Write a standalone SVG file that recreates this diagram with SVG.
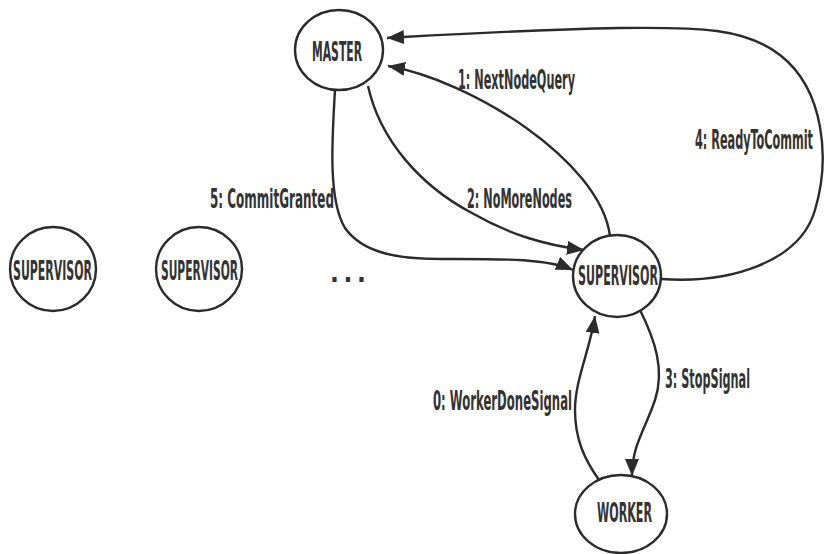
<svg xmlns="http://www.w3.org/2000/svg" width="824" height="554" viewBox="0 0 824 554">
  <style>
    .node { fill: #ffffff; stroke: #2b2b2b; stroke-width: 2.4; }
    .edge { fill: none; stroke: #2b2b2b; stroke-width: 2.4; marker-end: url(#head); }
    text { font-family: "DejaVu Sans Condensed", "Liberation Sans Narrow", "Liberation Sans", sans-serif; font-weight: bold; font-size: 26px; fill: #333333; }
  </style>
  <defs>
    <marker id="head" markerUnits="userSpaceOnUse" markerWidth="18" markerHeight="14" refX="17" refY="7" orient="auto">
      <path d="M0,0 L17,7 L0,14 z" fill="#2b2b2b"/>
    </marker>
  </defs>
  <rect width="824" height="554" fill="#ffffff"/>

  <!-- connectors -->
  <g id="connectors">
    <!-- 1: NextNodeQuery -->
    <path class="edge" d="M610,236 C600,160 470,80 388,66"/>
    <!-- 4: ReadyToCommit -->
    <path class="edge" d="M661,279 C730,284 800,262 815,210 C830,160 825,90 780,55 C745,28 700,27 620,28 C520,30 440,35 387,38"/>
    <!-- 2: NoMoreNodes -->
    <path class="edge" d="M368,86 C380,140 420,185 470,212 C510,235 545,245 584,250"/>
    <!-- 5: CommitGranted -->
    <path class="edge" d="M335,90 C332,140 328,200 345,228 C362,252 395,259 440,259 C500,259 545,258 573,270"/>
    <!-- 3: StopSignal -->
    <path class="edge" d="M640,310 C655,340 665,370 655,400 C645,430 632,445 632,476"/>
    <!-- 0: WorkerDoneSignal -->
    <path class="edge" d="M599,480 C585,460 575,440 575,410 C575,380 590,350 595,316"/>

    <text x="458" y="89" textLength="117" lengthAdjust="spacingAndGlyphs">1: NextNodeQuery</text>
    <text x="695" y="149" textLength="118" lengthAdjust="spacingAndGlyphs">4: ReadyToCommit</text>
    <text x="467" y="208" textLength="105" lengthAdjust="spacingAndGlyphs">2: NoMoreNodes</text>
    <text x="210" y="208" textLength="124" lengthAdjust="spacingAndGlyphs">5: CommitGranted</text>
    <text x="665" y="388" textLength="85" lengthAdjust="spacingAndGlyphs">3: StopSignal</text>
    <text x="433" y="410" textLength="139" lengthAdjust="spacingAndGlyphs">0: WorkerDoneSignal</text>
  </g>

  <!-- nodes -->
  <g id="master">
    <ellipse class="node" cx="339" cy="50" rx="44" ry="40"/>
    <text x="312" y="61" textLength="50" lengthAdjust="spacingAndGlyphs">MASTER</text>
  </g>
  <g id="supervisor">
    <ellipse class="node" cx="617" cy="276" rx="44" ry="41"/>
    <text x="578" y="285" textLength="80" lengthAdjust="spacingAndGlyphs">SUPERVISOR</text>
  </g>
  <g id="worker">
    <ellipse class="node" cx="621" cy="514" rx="46" ry="39"/>
    <text x="597" y="522" textLength="55" lengthAdjust="spacingAndGlyphs">WORKER</text>
  </g>
  <g id="supervisor-a">
    <ellipse class="node" cx="53" cy="269" rx="43" ry="42"/>
    <text x="13" y="280" textLength="79" lengthAdjust="spacingAndGlyphs">SUPERVISOR</text>
  </g>
  <g id="supervisor-b">
    <ellipse class="node" cx="199" cy="269" rx="43" ry="42"/>
    <text x="161" y="280" textLength="77" lengthAdjust="spacingAndGlyphs">SUPERVISOR</text>
  </g>
  <g id="ellipsis">
    <text x="330" y="282" textLength="36" lengthAdjust="spacing">. . .</text>
  </g>
</svg>
